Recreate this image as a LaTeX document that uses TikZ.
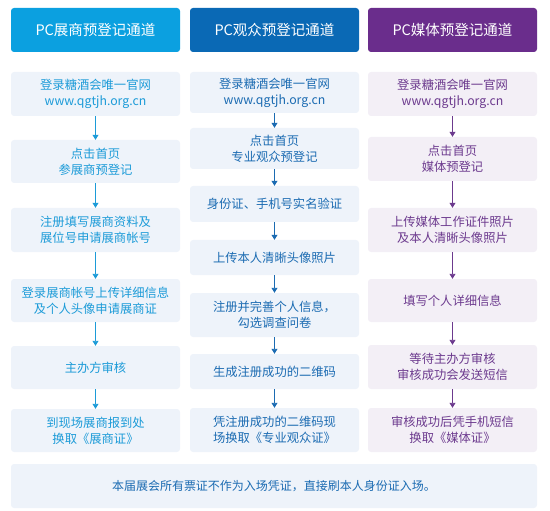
\documentclass[tikz,border=0pt]{standalone}
\usepackage{fontspec}
\setmainfont{Noto Sans CJK SC}
\usetikzlibrary{arrows.meta}

\definecolor{headL}{HTML}{0BA0E0}
\definecolor{headM}{HTML}{0A69B5}
\definecolor{headR}{HTML}{6A2D8C}
\definecolor{txtL}{HTML}{1C9BD8}
\definecolor{txtM}{HTML}{1B6BB2}
\definecolor{txtR}{HTML}{6C3A8E}
\definecolor{fillB}{HTML}{EEF3FA}
\definecolor{fillR}{HTML}{F3EFF6}

\begin{document}
\begin{tikzpicture}[
    x=1pt, y=-1pt,
    head/.style={rounded corners=3pt, minimum width=169pt, minimum height=44pt,
        inner sep=0pt, text=white, font=\fontsize{14.5}{16}\selectfont},
    stepbox/.style={rounded corners=3pt, minimum width=169pt, inner sep=0pt,
        align=center, font=\fontsize{12.3}{16}\selectfont},
    boxL/.style={stepbox, fill=fillB, text=txtL},
    boxM/.style={stepbox, fill=fillB, text=txtM},
    boxR/.style={stepbox, fill=fillR, text=txtR},
    arr/.style={-{Triangle[length=5pt,width=6pt]}, line width=0.9pt},
]

\useasboundingbox (0,0) rectangle (550,511);

% Headers
\node[head, fill=headL] (hL) at (95.5,30) {PC展商预登记通道};
\node[head, fill=headM] (hM) at (274.5,30) {PC观众预登记通道};
\node[head, fill=headR] (hR) at (452.5,30) {PC媒体预登记通道};

% Exhibitor column
\node[boxL, minimum height=44pt] (l1) at (95.5,94) {登录糖酒会唯一官网\\www.qgtjh.org.cn};
\node[boxL, minimum height=43pt] (l2) at (95.5,161.5) {点击首页\\参展商预登记};
\node[boxL, minimum height=44pt] (l3) at (95.5,230) {注册填写展商资料及\\展位号申请展商帐号};
\node[boxL, minimum height=43pt] (l4) at (95.5,300.5) {登录展商帐号上传详细信息\\及个人头像申请展商证};
\node[boxL, minimum height=43pt] (l5) at (95.5,367.5) {主办方审核};
\node[boxL, minimum height=43pt] (l6) at (95.5,430.5) {到现场展商报到处\\换取《展商证》};

\draw[arr, txtL] (l1) -- (l2);
\draw[arr, txtL] (l2) -- (l3);
\draw[arr, txtL] (l3) -- (l4);
\draw[arr, txtL] (l4) -- (l5);
\draw[arr, txtL] (l5) -- (l6);

% Visitor column
\node[boxM, minimum height=41pt] (m1) at (274.5,92.5) {登录糖酒会唯一官网\\www.qgtjh.org.cn};
\node[boxM, minimum height=41pt] (m2) at (274.5,148.5) {点击首页\\专业观众预登记};
\node[boxM, minimum height=36pt] (m3) at (274.5,204) {身份证、手机号实名验证};
\node[boxM, minimum height=35pt] (m4) at (274.5,257.5) {上传本人清晰头像照片};
\node[boxM, minimum height=44pt] (m5) at (274.5,315) {注册并完善个人信息，\\勾选调查问卷};
\node[boxM, minimum height=35pt] (m6) at (274.5,371.5) {生成注册成功的二维码};
\node[boxM, minimum height=44pt] (m7) at (274.5,430) {凭注册成功的二维码现\\场换取《专业观众证》};

\draw[arr, txtM] (m1) -- (m2);
\draw[arr, txtM] (m2) -- (m3);
\draw[arr, txtM] (m3) -- (m4);
\draw[arr, txtM] (m4) -- (m5);
\draw[arr, txtM] (m5) -- (m6);
\draw[arr, txtM] (m6) -- (m7);

% Media column
\node[boxR, minimum height=44pt] (r1) at (452.5,94) {登录糖酒会唯一官网\\www.qgtjh.org.cn};
\node[boxR, minimum height=44pt] (r2) at (452.5,159) {点击首页\\媒体预登记};
\node[boxR, minimum height=44pt] (r3) at (452.5,230) {上传媒体工作证件照片\\及本人清晰头像照片};
\node[boxR, minimum height=43pt] (r4) at (452.5,300.5) {填写个人详细信息};
\node[boxR, minimum height=44pt] (r5) at (452.5,367) {等待主办方审核\\审核成功会发送短信};
\node[boxR, minimum height=44pt] (r6) at (452.5,430) {审核成功后凭手机短信\\换取《媒体证》};

\draw[arr, txtR] (r1) -- (r2);
\draw[arr, txtR] (r2) -- (r3);
\draw[arr, txtR] (r3) -- (r4);
\draw[arr, txtR] (r4) -- (r5);
\draw[arr, txtR] (r5) -- (r6);

% Note
\node[boxM, minimum width=526pt, minimum height=44pt, font=\fontsize{12}{16}\selectfont] (note) at (274,486)
    {本届展会所有票证不作为入场凭证，直接刷本人身份证入场。};

\end{tikzpicture}
\end{document}
